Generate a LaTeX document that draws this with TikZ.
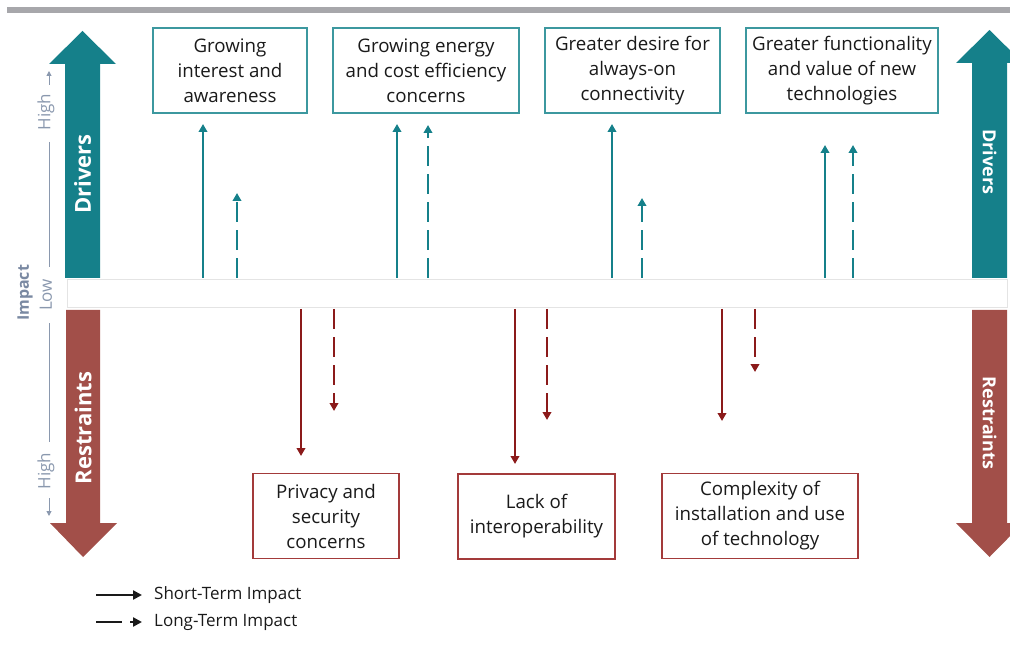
\documentclass[tikz,border=0pt]{standalone}
\usepackage{fontspec}
\setmainfont{Open Sans}
\usetikzlibrary{arrows.meta}

\definecolor{drvfill}{HTML}{15808A}
\definecolor{drvline}{HTML}{3C989F}
\definecolor{rstfill}{HTML}{A24F49}
\definecolor{rstline}{HTML}{A33A3A}
\definecolor{rstarrow}{HTML}{8B1A1A}
\definecolor{barcol}{HTML}{A7A7AB}
\definecolor{bandcol}{HTML}{E4E4E4}
\definecolor{axiscol}{HTML}{8A98AE}
\definecolor{axisdark}{HTML}{7A89A2}
\definecolor{txtcol}{HTML}{1A1A1A}

\tikzset{
  factorbox/.style={line width=1.1pt, minimum height=85pt, inner sep=0pt,
    align=center, text=txtcol, font=\fontsize{18.7}{25}\selectfont},
  driverbox/.style={factorbox, draw=drvline},
  restraintbox/.style={factorbox, draw=rstline},
  impactarrow/.style={line width=2pt, -{Triangle[width=8.5pt,length=8pt]}},
  longterm/.style={dash pattern=on 20pt off 8pt},
  drvimpact/.style={impactarrow, draw=drvfill},
  rstimpact/.style={impactarrow, draw=rstarrow},
  bigtext/.style={text=white, font=\bfseries\fontsize{22}{22}\selectfont, inner sep=0pt},
  smalltext/.style={text=white, font=\bfseries\fontsize{18}{18}\selectfont, inner sep=0pt},
  axislabel/.style={text=axiscol, font=\fontsize{17}{17}\selectfont, inner sep=0pt, rotate=90},
  axisline/.style={draw=axiscol, line width=1pt},
  legendtext/.style={text=txtcol, font=\fontsize{17}{17}\selectfont, anchor=west, inner sep=0pt},
  legendarrow/.style={line width=2.4pt, draw=txtcol, -{Triangle[width=9pt,length=9pt]}}
}

\begin{document}
\begin{tikzpicture}[x=1pt,y=-1pt]
\useasboundingbox (0,0) rectangle (1010,647);
\clip (0,0) rectangle (1010,647);

% header rule
\fill[barcol] (7,7) rectangle (1010,13);

% neutral band separating drivers and restraints
\draw[bandcol, fill=white, line width=1pt] (67,280) rectangle (1007,308);

% large block arrows, left side
\fill[drvfill] (65,278) -- (65,64) -- (49,64) -- (82.5,31) -- (116,64) -- (100,64) -- (100,278) -- cycle;
\fill[rstfill] (66,310) -- (66,523) -- (50,523) -- (83,557) -- (117,523) -- (100,523) -- (100,310) -- cycle;
\node[bigtext, rotate=90] (drvL) at (82.5,174) {Drivers};
\node[bigtext, rotate=90] (rstL) at (83,428) {Restraints};

% large block arrows, right side
\fill[drvfill] (972,278) -- (972,63) -- (956,63) -- (989.5,30) -- (1023,63) -- (1007,63) -- (1007,278) -- cycle;
\fill[rstfill] (972,310) -- (972,523) -- (956,523) -- (989.5,557) -- (1023,523) -- (1007,523) -- (1007,310) -- cycle;
\node[smalltext, rotate=-90] (drvR) at (989.5,162) {Drivers};
\node[smalltext, rotate=-90] (rstR) at (989.5,423) {Restraints};

% impact scale
\node[axislabel] (hiTop) at (46,112) {High};
\node[axislabel] (lowLbl) at (46,295) {Low};
\node[axislabel] (hiBot) at (46,471) {High};
\node[axislabel, text=axisdark, font=\bfseries\fontsize{16}{16}\selectfont] (impLbl) at (25,293) {Impact};
\coordinate (scA1) at (49,85); \coordinate (scA2) at (49,71);
\coordinate (scB1) at (49,498); \coordinate (scB2) at (49,516);
\draw[axisline, -{Triangle[width=5pt,length=5pt]}] (scA1) -- (scA2);
\draw[axisline, -{Triangle[width=5pt,length=5pt]}] (scB1) -- (scB2);
\coordinate (scL1) at (49,142); \coordinate (scL2) at (49,267);
\coordinate (scL3) at (49,323); \coordinate (scL4) at (49,442);
\draw[axisline] (scL1) -- (scL2);
\draw[axisline] (scL3) -- (scL4);

% driver boxes
\node[driverbox, minimum width=154pt] (d1) at (230,70.5) {Growing\\interest and\\awareness};
\node[driverbox, minimum width=186pt] (d2) at (426,70.5) {Growing energy\\and cost efficiency\\concerns};
\node[driverbox, minimum width=175pt] (d3) at (632.5,70.5) {Greater desire for\\always-on\\connectivity};
\node[driverbox, minimum width=192pt] (d4) at (842,70.5) {Greater functionality\\and value of new\\technologies};

% restraint boxes
\node[restraintbox, minimum width=146pt] (r1) at (326,516) {Privacy and\\security\\concerns};
\node[restraintbox, minimum width=157pt] (r2) at (536.5,516.5) {Lack of\\interoperability};
\node[restraintbox, minimum width=196pt] (r3) at (760,516) {Complexity of\\installation and use\\of technology};

% driver impact arrows
\coordinate (d1s0) at (203,278); \coordinate (d1s1) at (203,124);
\coordinate (d1l0) at (237,278); \coordinate (d1l1) at (237,193);
\coordinate (d2s0) at (397,278); \coordinate (d2s1) at (397,124);
\coordinate (d2l0) at (428,278); \coordinate (d2l1) at (428,125);
\coordinate (d3s0) at (612,278); \coordinate (d3s1) at (612,124);
\coordinate (d3l0) at (642,278); \coordinate (d3l1) at (642,198);
\coordinate (d4s0) at (825,278); \coordinate (d4s1) at (825,145);
\coordinate (d4l0) at (853,278); \coordinate (d4l1) at (853,145);
\draw[drvimpact] (d1s0) -- (d1s1);
\draw[drvimpact, longterm] (d1l0) -- (d1l1);
\draw[drvimpact] (d2s0) -- (d2s1);
\draw[drvimpact, longterm] (d2l0) -- (d2l1);
\draw[drvimpact] (d3s0) -- (d3s1);
\draw[drvimpact, longterm] (d3l0) -- (d3l1);
\draw[drvimpact] (d4s0) -- (d4s1);
\draw[drvimpact, longterm] (d4l0) -- (d4l1);

% restraint impact arrows
\coordinate (r1s0) at (301,309); \coordinate (r1s1) at (301,456);
\coordinate (r1l0) at (334,309); \coordinate (r1l1) at (334,411);
\coordinate (r2s0) at (515,309); \coordinate (r2s1) at (515,464);
\coordinate (r2l0) at (547,309); \coordinate (r2l1) at (547,420);
\coordinate (r3s0) at (722,309); \coordinate (r3s1) at (722,421);
\coordinate (r3l0) at (755,309); \coordinate (r3l1) at (755,372);
\draw[rstimpact] (r1s0) -- (r1s1);
\draw[rstimpact, longterm] (r1l0) -- (r1l1);
\draw[rstimpact] (r2s0) -- (r2s1);
\draw[rstimpact, longterm] (r2l0) -- (r2l1);
\draw[rstimpact] (r3s0) -- (r3s1);
\draw[rstimpact, longterm] (r3l0) -- (r3l1);

% legend
\coordinate (lg1a) at (96,595); \coordinate (lg1b) at (142,595);
\coordinate (lg2a) at (96,622); \coordinate (lg2b) at (142,622);
\draw[legendarrow] (lg1a) -- (lg1b);
\draw[legendarrow, dash pattern=on 26pt off 8pt] (lg2a) -- (lg2b);
\node[legendtext] (lgShort) at (154,595) {Short-Term Impact};
\node[legendtext] (lgLong) at (154,622) {Long-Term Impact};
\end{tikzpicture}
\end{document}
